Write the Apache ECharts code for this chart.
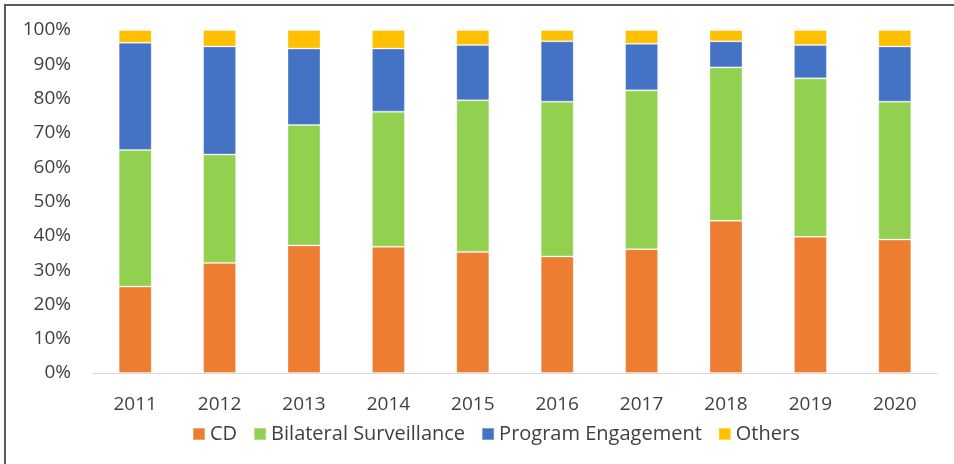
<!DOCTYPE html>
<html>
<head>
<meta charset="utf-8">
<script src="https://cdn.jsdelivr.net/npm/echarts@6/dist/echarts.min.js"></script>
<style>
  body { margin: 0; background: #fff; }
  #wrap { position: relative; width: 954px; height: 464px; }
  #chart { width: 954px; height: 464px; }
  #frame {
    position: absolute; left: 4px; top: 4px; right: 0; bottom: 0;
    border-left: 2px solid #5a5a5a; border-top: 2px solid #5a5a5a;
    pointer-events: none;
  }
</style>
</head>
<body>
<div id="wrap">
  <div id="chart"></div>
  <div id="frame"></div>
</div>
<script>
const years = ['2011', '2012', '2013', '2014', '2015', '2016', '2017', '2018', '2019', '2020'];
// shares in %
const cd = [25.2, 32.1, 37.2, 36.8, 35.3, 34.0, 36.1, 44.4, 39.7, 38.9];
const bilateral = [39.8, 31.6, 35.1, 39.4, 44.2, 45.1, 46.3, 44.7, 46.2, 40.2];
const program = [31.3, 31.5, 22.3, 18.4, 16.1, 17.6, 13.6, 7.6, 9.7, 16.1];
const others = [3.7, 4.8, 5.4, 5.4, 4.4, 3.3, 4.0, 3.3, 4.4, 4.8];

const names = ['CD', 'Bilateral Surveillance', 'Program Engagement', 'Others'];
const colors = ['#ed7d31', '#92d050', '#4472c4', '#ffc000'];
const font = '"Open Sans", "Noto Sans", sans-serif';

let myChart = echarts.init(document.getElementById('chart'));

function bar(name, data, i) {
  return {
    name: name,
    type: 'bar',
    stack: 'all',
    data: data,
    barWidth: 33,
    itemStyle: { color: colors[i], borderColor: 'rgba(255,255,255,0.3)', borderWidth: 1 },
    emphasis: { disabled: true }
  };
}

myChart.setOption({
  animation: false,
  textStyle: { fontFamily: font },
  grid: { left: 93, right: 17, top: 30, bottom: 91 },
  legend: {
    left: 187,
    top: 419,
    itemWidth: 12,
    itemHeight: 12,
    itemGap: 16,
    icon: 'rect',
    textStyle: { fontSize: 20, color: '#404040', fontFamily: font },
    data: names
  },
  xAxis: {
    type: 'category',
    data: years,
    axisLine: { lineStyle: { color: '#d9d9d9', width: 1 } },
    axisTick: { show: false },
    axisLabel: { fontSize: 19, color: '#404040', margin: 22 }
  },
  yAxis: {
    type: 'value',
    min: 0,
    max: 100,
    interval: 10,
    splitLine: { show: false },
    axisLine: { show: false },
    axisTick: { show: false },
    axisLabel: { fontSize: 19, color: '#404040', margin: 22, formatter: '{value}%' }
  },
  series: [
    bar(names[0], cd, 0),
    bar(names[1], bilateral, 1),
    bar(names[2], program, 2),
    bar(names[3], others, 3)
  ]
});
</script>
</body>
</html>
